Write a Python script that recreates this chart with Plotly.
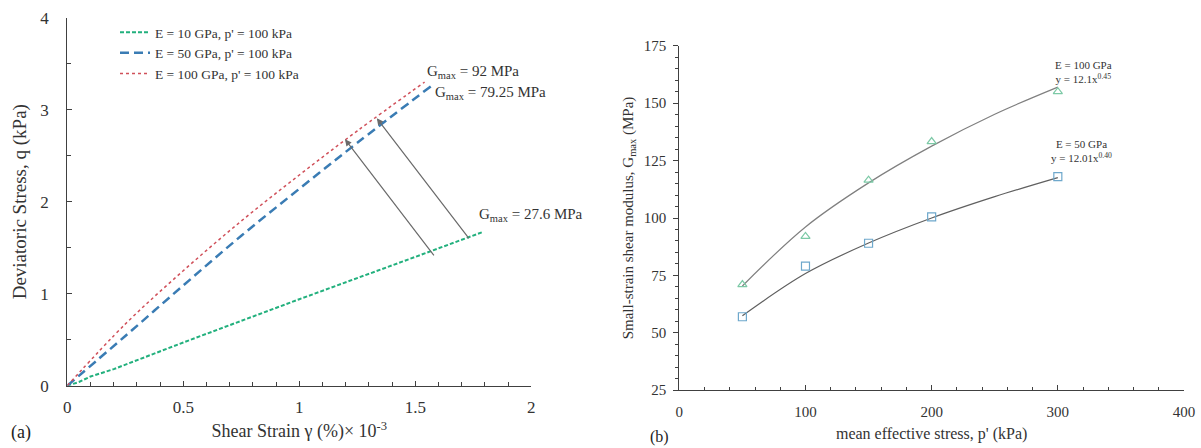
import plotly.graph_objects as go

# ---------------- Panel (a) data ----------------
strain_10 = [0, 0.05, 0.1, 0.2, 0.5, 1.0, 1.5, 1.79]
q_10 = [0, 0.04, 0.1, 0.18, 0.47, 0.94, 1.40, 1.67]

strain_50 = [0, 0.25, 0.5, 0.75, 1.0, 1.25, 1.57]
q_50 = [0, 0.54, 1.09, 1.63, 2.14, 2.64, 3.26]

strain_100 = [0, 0.25, 0.5, 0.75, 1.0, 1.25, 1.54]
q_100 = [0, 0.67, 1.25, 1.79, 2.29, 2.77, 3.30]

legend_names = ["E = 10 GPa, p' = 100 kPa", "E = 50 GPa, p' = 100 kPa", "E = 100 GPa, p' = 100 kPa"]

# arrows (tail -> head) in data units of panel (a)
arrow_tail_x = [1.585, 1.736]
arrow_tail_y = [1.40, 1.584]
arrow_head_x = [1.197, 1.334]
arrow_head_y = [2.678, 2.907]

gmax_labels = ["G<sub>max</sub> = 92 MPa", "G<sub>max</sub> = 79.25 MPa", "G<sub>max</sub> = 27.6 MPa"]
gmax_x = [1.542, 1.576, 1.766]
gmax_y = [3.41, 3.18, 1.855]

# ---------------- Panel (b) data ----------------
p_mean = [50, 100, 150, 200, 300]
gmax_E100 = [71, 92, 116.5, 133.3, 155]
gmax_E50 = [57, 79, 89, 100.5, 118]

trend_p = [50, 100, 150, 200, 250, 300]
trend_E100 = [70.4, 96.1, 115.3, 131.3, 145.2, 157.0]
trend_E50 = [57.4, 75.8, 89.1, 100.0, 109.3, 117.6]

fit_labels = ["E = 100 GPa<br>y = 12.1x<sup>0.45</sup>", "E = 50 GPa<br>y = 12.01x<sup>0.40</sup>"]
fit_x = [320, 319]
fit_y = [163.5, 129.0]

FONT = "Liberation Serif"
AXC = "#404040"
TXT = "#333333"

fig = go.Figure()

fig.add_trace(go.Scatter(x=strain_10, y=q_10, mode="lines", name=legend_names[0],
                         line=dict(color="#22b07d", width=2, dash="4px,2px"),
                         xaxis="x", yaxis="y"))
fig.add_trace(go.Scatter(x=strain_50, y=q_50, mode="lines", name=legend_names[1],
                         line=dict(color="#3a7cb4", width=2.5, dash="9px,5px", shape="spline"),
                         xaxis="x", yaxis="y"))
fig.add_trace(go.Scatter(x=strain_100, y=q_100, mode="lines", name=legend_names[2],
                         line=dict(color="#d0505a", width=1.5, dash="dot", shape="spline"),
                         xaxis="x", yaxis="y"))

# panel b
fig.add_trace(go.Scatter(x=trend_p, y=trend_E100, mode="lines", showlegend=False,
                         line=dict(color="#808080", width=1.2, shape="spline"),
                         xaxis="x2", yaxis="y2"))
fig.add_trace(go.Scatter(x=trend_p, y=trend_E50, mode="lines", showlegend=False,
                         line=dict(color="#606060", width=1.2, shape="spline"),
                         xaxis="x2", yaxis="y2"))
fig.add_trace(go.Scatter(x=p_mean, y=gmax_E100, mode="markers", showlegend=False,
                         marker=dict(symbol="triangle-up-open", size=8, color="#7cc9a6",
                                     line=dict(width=1.2)),
                         xaxis="x2", yaxis="y2"))
fig.add_trace(go.Scatter(x=p_mean, y=gmax_E50, mode="markers", showlegend=False,
                         marker=dict(symbol="square-open", size=8, color="#6ea8cc",
                                     line=dict(width=1.2)),
                         xaxis="x2", yaxis="y2"))

annotations = []
for tx, ty, hx, hy in zip(arrow_tail_x, arrow_tail_y, arrow_head_x, arrow_head_y):
    annotations.append(dict(x=hx, y=hy, ax=tx, ay=ty, xref="x", yref="y", axref="x", ayref="y",
                            text="", showarrow=True, arrowhead=2, arrowsize=1.1, arrowwidth=1.2,
                            arrowcolor="#6a6a6a"))
for t, gx, gy in zip(gmax_labels, gmax_x, gmax_y):
    annotations.append(dict(x=gx, y=gy, xref="x", yref="y", text=t, showarrow=False,
                            xanchor="left", yanchor="middle",
                            font=dict(family=FONT, size=15, color=TXT)))
for t, fx, fy in zip(fit_labels, fit_x, fit_y):
    annotations.append(dict(x=fx, y=fy, xref="x2", yref="y2", text=t, showarrow=False,
                            xanchor="center", yanchor="middle",
                            font=dict(family=FONT, size=11, color=TXT)))
annotations.append(dict(x=9 / 1201, y=(448 - 432) / 448, xref="paper", yref="paper", text="(a)",
                        showarrow=False, xanchor="left", yanchor="middle",
                        font=dict(family=FONT, size=18, color="#222222")))
annotations.append(dict(x=648 / 1201, y=(448 - 437) / 448, xref="paper", yref="paper", text="(b)",
                        showarrow=False, xanchor="left", yanchor="middle",
                        font=dict(family=FONT, size=16, color="#222222")))

fig.update_layout(
    width=1201, height=448,
    margin=dict(l=0, r=0, t=0, b=0, autoexpand=False),
    paper_bgcolor="white", plot_bgcolor="white",
    font=dict(family=FONT, color=TXT),
    showlegend=True,
    legend=dict(x=115 / 1201, y=(448 - 17) / 448, xanchor="left", yanchor="top",
                font=dict(family=FONT, size=13.5, color=TXT),
                bgcolor="rgba(0,0,0,0)", tracegroupgap=0, itemwidth=30),
    annotations=annotations,
    xaxis=dict(domain=[67.3 / 1201, 531.3 / 1201], range=[0, 2], dtick=0.5, tick0=0,
               showgrid=False, zeroline=False, showline=True, linecolor=AXC, linewidth=1.3,
               ticks="inside", ticklen=5, tickcolor=AXC, tickformat="~g", automargin=False,
               minor=dict(dtick=0.1, ticks="inside", ticklen=4, tickcolor=AXC, showgrid=False),
               tickfont=dict(family=FONT, size=17, color=TXT), ticklabelstandoff=6,
               title=dict(text="Shear Strain γ (%)× 10<sup>-3</sup>", standoff=8,
                          font=dict(family=FONT, size=18, color=TXT)),
               anchor="y"),
    yaxis=dict(domain=[(448 - 385.7) / 448, (448 - 17.7) / 448], range=[0, 4], dtick=1,
               showgrid=False, zeroline=False, showline=True, linecolor=AXC, linewidth=1.3,
               ticks="inside", ticklen=5, tickcolor=AXC, automargin=False,
               minor=dict(dtick=0.5, ticks="inside", ticklen=4, tickcolor=AXC, showgrid=False),
               tickfont=dict(family=FONT, size=17, color=TXT), ticklabelstandoff=14,
               title=dict(text="Deviatoric Stress, q (kPa)", standoff=8,
                          font=dict(family=FONT, size=19, color=TXT)),
               anchor="x"),
    xaxis2=dict(domain=[679.3 / 1201, 1184 / 1201], range=[0, 400], dtick=100,
                showgrid=False, zeroline=False, showline=True, linecolor=AXC, linewidth=1.3,
                ticks="inside", ticklen=5, tickcolor=AXC, automargin=False,
                minor=dict(dtick=20, ticks="inside", ticklen=3, tickcolor=AXC, showgrid=False),
                tickfont=dict(family=FONT, size=15, color=TXT), ticklabelstandoff=8,
                title=dict(text="mean effective stress, p' (kPa)", standoff=8,
                           font=dict(family=FONT, size=16, color=TXT)),
                anchor="y2"),
    yaxis2=dict(domain=[(448 - 390.2) / 448, (448 - 45.8) / 448], range=[25, 175], dtick=25,
                showgrid=False, zeroline=False, showline=True, linecolor=AXC, linewidth=1.3,
                ticks="outside", ticklen=5, tickcolor=AXC, automargin=False,
                minor=dict(dtick=5, ticks="outside", ticklen=3, tickcolor=AXC, showgrid=False),
                tickfont=dict(family=FONT, size=15, color=TXT), ticklabelstandoff=4,
                title=dict(text="Small-strain shear modulus, G<sub>max</sub> (MPa)", standoff=6,
                           font=dict(family=FONT, size=15, color=TXT)),
                anchor="x2"),
)

fig.write_html("out.html",
               config={"displayModeBar": False},
               post_script="document.body.style.margin='0';document.body.style.padding='0';"
                           "document.documentElement.style.overflow='hidden';")
